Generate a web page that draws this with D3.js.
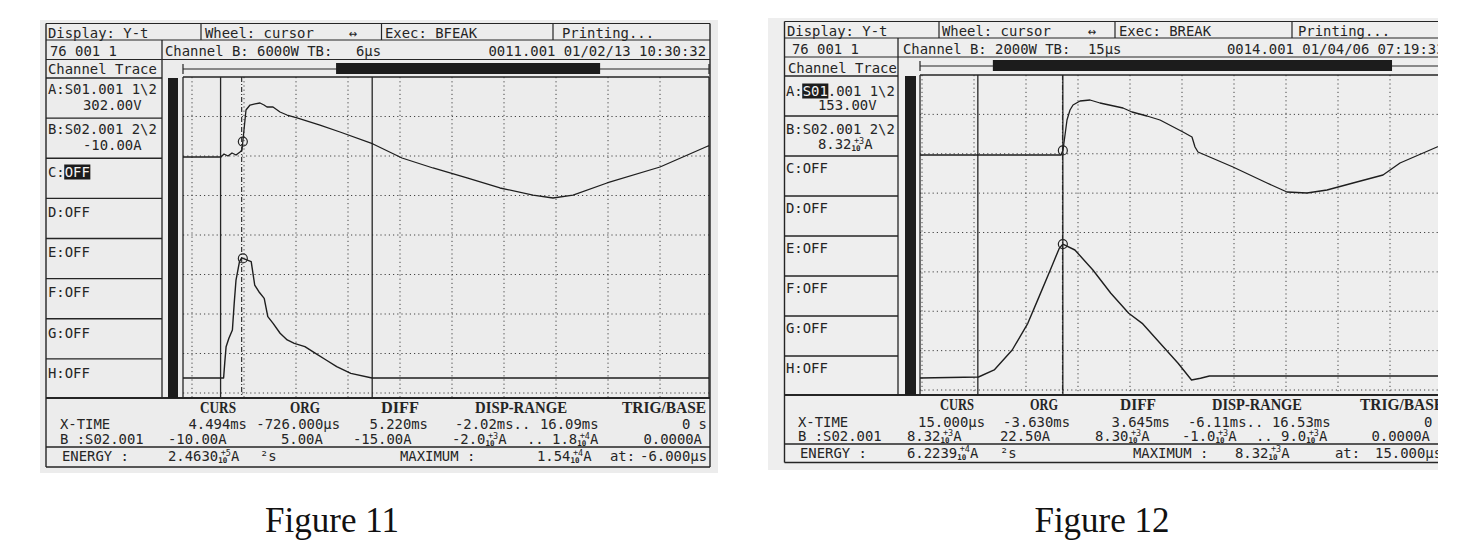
<!DOCTYPE html>
<html><head><meta charset="utf-8">
<script src="https://cdn.jsdelivr.net/npm/d3@7"></script>
<style>body{margin:0;background:#fff}svg{display:block}</style>
</head><body>
<svg id="c" width="1482" height="551"></svg>
<script>
// ---------------- DATA (read from the two scope printouts) ----------------
// Figure 11 : channel A (volts) and channel B (amps) versus time (ms)
const fig11ATime = [-2.02,-0.712,-0.608,-0.471,-0.333,-0.195,-0.057,0.011,0.080,0.149,0.287,0.459,0.631,0.769,0.872,1.079,1.320,1.561,1.905,2.697,3.386,4.522,5.520,6.588,7.758,8.894,10.031,10.719,11.408,12.578,14.403,16.056,16.09];
const fig11AVolt = [0,0,70,23,93,46,116,162,626,1090,1206,1230,1253,1206,1160,1160,1044,974,905,742,580,302,-23,-255,-487,-719,-882,-951,-882,-603,-232,255,262];
const fig11BTime = [-2.02,-0.70,-0.622,-0.584,-0.536,-0.440,-0.319,-0.257,-0.195,-0.075,0.0,0.328,0.449,0.593,0.776,0.900,1.082,1.323,1.568,1.812,2.177,2.542,2.907,3.272,3.757,4.487,16.09];
const fig11BAmp  = [0,0,0,1880,4020,5090,6160,9580,12570,14920,15400,14920,11930,11070,10220,7870,7010,5740,4880,4450,4020,3170,2310,1450,600,0,0];
// Figure 12
const fig12ATime = [-6.11,-0.064,0.022,0.108,0.193,0.322,0.451,0.751,1.18,1.608,2.595,2.98,3.623,4.181,5.167,5.553,5.682,5.81,7.311,8.769,9.627,10.485,11.342,12.457,13.743,14.472,16.059,16.53];
const fig12AVolt = [0,0,125,500,875,1125,1250,1350,1375,1300,1175,1075,975,875,575,450,200,75,-300,-700,-925,-950,-875,-700,-500,-200,200,300];
const fig12BTime = [-6.11,-3.602,-2.928,-2.156,-1.487,-1.003,-0.523,-0.141,0.015,0.532,1.304,2.072,2.84,3.418,4.186,4.957,5.532,5.918,6.3,16.53];
const fig12BAmp  = [-60,0,440,1690,3360,5030,6700,8050,8320,7950,6700,5240,3990,3360,2110,860,-190,-80,60,60];

// Display ranges, cursors (ms) and channel screen scales
const fig11DispRange = [-2.02, 16.09];
const fig12DispRange = [-6.11, 16.53];
const fig11Cursors = [-0.726, 4.494, 0];     // ORG, CURS, trigger
const fig12Cursors = [-3.630, 0.015, 0];
const fig11MarkTime = 0.04, fig12MarkTime = 0.015;
const fig11ADomain = [-5591, 1856], fig11BDomain = [-2566, 38618];
const fig12ADomain = [-6000, 2000], fig12BDomain = [-1127, 18905];
const fig11GridT = [-1.710, 1.7904];           // first grid time, grid step
const fig12GridT = [-6.024, 2.2297];
const fig11RecordWin = [0.291, 0.793];
const fig12RecordWin = [0.138, 0.894];

// Texts
const fig11Header = ["Display: Y-t","Wheel: cursor","↔","Exec: BFEAK","Printing...","76 001 1","Channel B: 6000W TB:","6µs","0011.001 01/02/13 10:30:32","Channel Trace"];
const fig12Header = ["Display: Y-t","Wheel: cursor","↔","Exec: BREAK","Printing...","76 001 1","Channel B: 2000W TB:","15µs","0014.001 01/04/06 07:19:33","Channel Trace"];
const fig11Channels = ["A:S01.001 1\\2","302.00V","B:S02.001 2\\2","-10.00A","C:OFF","D:OFF","E:OFF","F:OFF","G:OFF","H:OFF"];
const fig12Channels = ["A:S01.001 1\\2","153.00V","B:S02.001 2\\2","8.32^+3A","C:OFF","D:OFF","E:OFF","F:OFF","G:OFF","H:OFF"];
const readoutHeads = ["CURS","ORG","DIFF","DISP-RANGE","TRIG/BASE"];
const fig11XRow = ["X-TIME","4.494ms","-726.000µs","5.220ms","-2.02ms..","16.09ms","0 s"];
const fig11BRow = ["B :S02.001","-10.00A","5.00A","-15.00A","-2.0^+3A",".. 1.8^+4A","0.0000A"];
const fig11ERow = ["ENERGY :","2.4630^+5A","²s","MAXIMUM :","1.54^+4A","at:","-6.000µs"];
const fig12XRow = ["X-TIME","15.000µs","-3.630ms","3.645ms","-6.11ms..","16.53ms","0 s"];
const fig12BRow = ["B :S02.001","8.32^+3A","22.50A","8.30^+3A","-1.0^+3A",".. 9.0^+3A","0.0000A"];
const fig12ERow = ["ENERGY :","6.2239^+4A","²s","MAXIMUM :","8.32^+3A","at:","15.000µs"];
const captions = ["Figure 11","Figure 12"];

// ---------------- LAYOUT ----------------
const fig11Layout = {
  bg:[40,20,678,453], bgColor:'#ececec', clip:null,
  L:46, R:710, top:23.5, row1:40, row2:59.5,
  plotL:183, plotR:709, plotTop:77, plotBottom:398, gridBottom:393,
  colR:162, barX:[168,178], dividers:[201,381.5,553],
  topBarY:69,
  header:[[48,37.5],[205,37.5],[349,37.5],[385,37.5],[562,37.5],[50,56],[165,56],[356,56],[706,56,'end'],[48,74]],
  chanX:[48,83], chanY:[94,110,134,150], offY0:177, highlight:[4,2,5],
  headsX:[200,290,381,475,622], headsW:[36,30,38,92,84], headsY:413,
  xRow:[[60,'s'],[247,'e'],[340,'e'],[428,'e'],[455,'s'],[540,'s'],[707,'e']], xY:429,
  bRow:[[60,'s'],[168,'s'],[281,'s'],[353,'s'],[452,'s'],[527,'s'],[702,'e']], bY:444,
  eRow:[[62,'s'],[168,'s'],[260,'s'],[400,'s'],[537,'s'],[610,'s'],[707,'e']], eY:461,
  eTop:447, eBot:467
};
const fig12Layout = {
  bg:[768,18,670,452], bgColor:'#eeeeee', clip:[760,0,678,551],
  L:784.5, R:1447, top:21.5, row1:38, row2:57,
  plotL:920, plotR:1448, plotTop:75, plotBottom:395, gridBottom:390,
  colR:898, barX:[905,916], dividers:[939,1115,1292],
  topBarY:66,
  header:[[787,36],[942,36],[1088,36],[1119,36],[1298,36],[792,54],[903,54],[1088,54],[1227,54,'s'],[788,73]],
  chanX:[786,818], chanY:[96,110,134,149], offY0:173, highlight:[0,2,5],
  headsX:[940,1030,1120,1212,1360], headsW:[34,28,36,90,84], headsY:410,
  xRow:[[798,'s'],[985,'e'],[1070,'e'],[1170,'e'],[1188,'s'],[1272,'s'],[1449,'e']], xY:426.5,
  bRow:[[798,'s'],[907,'s'],[1000,'s'],[1095,'s'],[1182,'s'],[1256,'s'],[1430,'e']], bY:441,
  eRow:[[800,'s'],[907,'s'],[1000,'s'],[1133,'s'],[1235,'s'],[1335,'s'],[1442,'e']], eY:457.5,
  eTop:444, eBot:462.5
};

// ---------------- DRAWING ----------------
const svg = d3.select('#c');
const ink = '#252525';
const FS = 13.9, CW = FS * 0.602, SY = 1.05;
const defs = svg.append('defs');

function txt(g, x, y, s, o = {}) {
  const t = g.append('text')
    .attr('transform', `translate(${x},${y}) scale(1,${o.sy ?? SY})`)
    .attr('font-family', o.family || "'DejaVu Sans Mono', monospace")
    .attr('font-size', o.size || FS)
    .attr('font-weight', o.weight || 'normal')
    .attr('text-anchor', o.anchor || 'start')
    .attr('fill', o.fill || ink);
  if (s !== null) t.text(s);
  if (o.len) t.attr('textLength', o.len).attr('lengthAdjust', 'spacingAndGlyphs');
  return t;
}
// value text, supports "mant^+eUnit" scientific notation (mant x 10^e), drawn as one text element
function val(g, x, y, s, anchor) {
  const t = txt(g, x, y, null, {anchor: anchor === 'e' ? 'end' : 'start'});
  if (!s.includes('^')) { t.text(s); return; }
  const [m, rest] = s.split('^');
  const e = rest.slice(0, 2), u = rest.slice(2);
  t.append('tspan').text(m);
  t.append('tspan').attr('font-size', 7.5).attr('font-weight', 'bold').attr('dy', 2).text('10');
  t.append('tspan').attr('font-size', 8.5).attr('dx', -6.5).attr('dy', -7).text(e);
  t.append('tspan').attr('dx', 0).attr('dy', 5).text(u);
}
function interp(ts, vs, t) {
  const i = d3.bisectRight(ts, t);
  if (i <= 0) return vs[0];
  if (i >= ts.length) return vs[vs.length - 1];
  const f = (t - ts[i - 1]) / (ts[i] - ts[i - 1]);
  return vs[i - 1] + f * (vs[i] - vs[i - 1]);
}

function drawFig(id, lay, d) {
  if (lay.clip) {
    defs.append('clipPath').attr('id', id + 'clip').append('rect')
      .attr('x', lay.clip[0]).attr('y', lay.clip[1]).attr('width', lay.clip[2]).attr('height', lay.clip[3]);
  }
  const g = svg.append('g');
  if (lay.clip) g.attr('clip-path', `url(#${id}clip)`);
  g.append('rect').attr('x', lay.bg[0]).attr('y', lay.bg[1]).attr('width', lay.bg[2]).attr('height', lay.bg[3]).attr('fill', lay.bgColor);

  const ln = (x1, y1, x2, y2, w = 1.2, dash = null, col = ink) => {
    const l = g.append('line').attr('x1', x1).attr('y1', y1).attr('x2', x2).attr('y2', y2)
      .attr('stroke', col).attr('stroke-width', w);
    if (dash) l.attr('stroke-dasharray', dash);
    return l;
  };

  // scales
  const x = d3.scaleLinear().domain(d.range).range([lay.plotL, lay.plotR]);
  const yA = d3.scaleLinear().domain(d.aDomain).range([lay.plotBottom, lay.plotTop]);
  const yB = d3.scaleLinear().domain(d.bDomain).range([lay.plotBottom, lay.plotTop]);
  const yDiv = d3.scaleLinear().domain([0, 8]).range([lay.gridBottom, lay.plotTop]);
  const rec = d3.scaleLinear().domain([0, 1]).range([lay.plotL, lay.plotR]);
  const cellH = (lay.plotBottom - lay.plotTop) / 8;

  // grid
  const gridTimes = d3.range(0, 12).map(k => d.grid[0] + k * d.grid[1]).filter(t => t < d.range[1] - 0.3);
  gridTimes.forEach(t => ln(x(t), lay.plotTop, x(t), lay.plotBottom, 1, '1.2,3', '#444'));
  d3.range(0, 8).forEach(k => ln(lay.plotL, yDiv(k), lay.plotR, yDiv(k), 1, '1.2,3', '#444'));

  // frames
  ln(lay.L, lay.top, lay.R, lay.top);
  ln(lay.L, lay.top, lay.L, lay.eBot, 1.4);
  ln(lay.R, lay.top, lay.R, lay.eBot, 1.4);
  ln(lay.L, lay.row1, lay.R, lay.row1);
  ln(lay.L, lay.row2, lay.R, lay.row2);
  lay.dividers.forEach(v => ln(v, lay.top, v, lay.row1));
  ln(lay.colR, lay.row1, lay.colR, lay.plotBottom, 1.3);
  d3.range(0, 8).forEach(k => ln(lay.L, lay.plotTop + k * cellH + 1, lay.colR, lay.plotTop + k * cellH + 1, 1.3));
  ln(lay.plotL, lay.plotTop, lay.plotR, lay.plotTop, 1.3);
  ln(lay.plotL, lay.plotTop, lay.plotL, lay.plotBottom, 1.3);
  ln(lay.plotR, lay.plotTop, lay.plotR, lay.plotBottom, 1.3);
  ln(lay.L, lay.plotBottom, lay.R, lay.plotBottom, 1.8);
  ln(lay.L, lay.eTop, lay.R, lay.eTop, 1.3);
  ln(lay.L, lay.eBot, lay.R, lay.eBot, 1.3);
  g.append('rect').attr('x', lay.barX[0]).attr('y', lay.plotTop + 1).attr('width', lay.barX[1] - lay.barX[0])
    .attr('height', lay.plotBottom - lay.plotTop - 1).attr('fill', '#1c1c1c');

  // record position bar
  ln(rec(0), lay.topBarY, rec(1), lay.topBarY, 1.2);
  ln(rec(0), lay.topBarY - 5, rec(0), lay.topBarY + 5, 1.2);
  ln(rec(1), lay.topBarY - 5, rec(1), lay.topBarY + 5, 1.2);
  g.append('rect').attr('x', rec(d.win[0])).attr('y', lay.topBarY - 6).attr('width', rec(d.win[1]) - rec(d.win[0]))
    .attr('height', 11).attr('fill', '#1c1c1c');

  // cursors
  ln(x(d.cursors[0]), lay.plotTop, x(d.cursors[0]), lay.plotBottom, 1.3);
  ln(x(d.cursors[1]), lay.plotTop, x(d.cursors[1]), lay.plotBottom, 1.3);
  ln(x(d.cursors[2]), lay.plotTop, x(d.cursors[2]), lay.plotBottom, 1.1, '5,2,1,2');

  // traces
  const lineA = d3.line().x(p => x(p[0])).y(p => yA(p[1]));
  const lineB = d3.line().x(p => x(p[0])).y(p => yB(p[1]));
  g.append('path').attr('d', lineA(d3.zip(d.aT, d.aV))).attr('fill', 'none').attr('stroke', '#1e1e1e')
    .attr('stroke-width', 1.3).attr('stroke-linejoin', 'round');
  g.append('path').attr('d', lineB(d3.zip(d.bT, d.bV))).attr('fill', 'none').attr('stroke', '#1e1e1e')
    .attr('stroke-width', 1.4).attr('stroke-linejoin', 'round');
  // cursor markers
  [[yA, d.aT, d.aV], [yB, d.bT, d.bV]].forEach(([ys, ts, vs]) => {
    g.append('circle').attr('cx', x(d.mark)).attr('cy', ys(interp(ts, vs, d.mark))).attr('r', 4.5)
      .attr('fill', 'none').attr('stroke', ink).attr('stroke-width', 1.2);
  });

  // header texts
  d.header.forEach((s, i) => {
    const p = lay.header[i];
    txt(g, p[0], p[1], s, {anchor: p[2] === 'end' ? 'end' : 'start'});
  });
  // channel column (with one highlighted field drawn inverse)
  const [hi, c0, c1] = lay.highlight;
  const chanPos = i => i < 4 ? [i % 2 ? lay.chanX[1] : lay.chanX[0], lay.chanY[i]]
                              : [lay.chanX[0], lay.offY0 + (i - 4) * cellH];
  d.chans.forEach((s, i) => {
    const [px, py] = chanPos(i);
    if (i === hi) {
      g.append('rect').attr('x', px + c0 * CW - 0.5).attr('y', py - 12.5)
        .attr('width', (c1 - c0) * CW + 1).attr('height', 15).attr('fill', '#1c1c1c');
      const t = txt(g, px, py, null);
      t.append('tspan').text(s.slice(0, c0));
      t.append('tspan').attr('fill', '#f4f4f4').text(s.slice(c0, c1));
      t.append('tspan').text(s.slice(c1));
    } else {
      val(g, px, py, s, 's');
    }
  });

  // readout
  readoutHeads.forEach((s, i) => txt(g, lay.headsX[i], lay.headsY, s,
    {family: "'Liberation Serif', serif", weight: 'bold', size: 15, sy: 1.05, len: lay.headsW[i]}));
  [[d.xRow, lay.xRow, lay.xY], [d.bRow, lay.bRow, lay.bY], [d.eRow, lay.eRow, lay.eY]].forEach(([strs, pos, yy]) => {
    strs.forEach((s, i) => val(g, pos[i][0], yy, s, pos[i][1]));
  });
}

drawFig('f11', fig11Layout, {
  range: fig11DispRange, aDomain: fig11ADomain, bDomain: fig11BDomain, grid: fig11GridT, win: fig11RecordWin,
  cursors: fig11Cursors, mark: fig11MarkTime,
  aT: fig11ATime, aV: fig11AVolt, bT: fig11BTime, bV: fig11BAmp,
  header: fig11Header, chans: fig11Channels, xRow: fig11XRow, bRow: fig11BRow, eRow: fig11ERow
});
drawFig('f12', fig12Layout, {
  range: fig12DispRange, aDomain: fig12ADomain, bDomain: fig12BDomain, grid: fig12GridT, win: fig12RecordWin,
  cursors: fig12Cursors, mark: fig12MarkTime,
  aT: fig12ATime, aV: fig12AVolt, bT: fig12BTime, bV: fig12BAmp,
  header: fig12Header, chans: fig12Channels, xRow: fig12XRow, bRow: fig12BRow, eRow: fig12ERow
});

// captions
[[332, captions[0]], [1102, captions[1]]].forEach(([cx, s]) => {
  svg.append('text').attr('x', cx).attr('y', 532).attr('text-anchor', 'middle')
    .attr('font-family', "'Liberation Serif', 'Times New Roman', serif").attr('font-size', 35)
    .attr('fill', '#111').text(s);
});
</script>
</body></html>
